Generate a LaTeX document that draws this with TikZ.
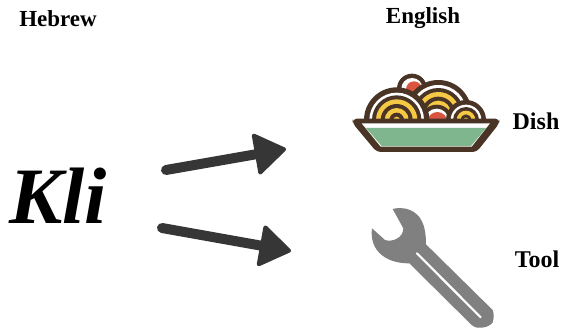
\documentclass[tikz,border=0pt]{standalone}
\usepackage{fontspec}
\setmainfont{Liberation Serif}
\usetikzlibrary{arrows.meta}
\definecolor{brownline}{HTML}{4A3425}
\definecolor{pastayellow}{HTML}{F6C945}
\definecolor{sauce}{HTML}{D9553F}
\definecolor{bowlgreen}{HTML}{7FB68E}
\definecolor{arrowgray}{HTML}{363636}
\definecolor{wrenchgray}{HTML}{808080}
\tikzset{
  headlabel/.style={font=\bfseries\fontsize{23}{23}\selectfont},
  sidelabel/.style={font=\bfseries\fontsize{24}{24}\selectfont},
  bigword/.style={font=\bfseries\itshape\fontsize{80}{80}\selectfont},
  fatarrow/.style={arrowgray,line width=10pt,line cap=round,
    -{Triangle[round,line width=4pt,length=33pt,width=44pt]}}
}
% concentric rings of one pasta swirl: centre, then radius/colour pairs
\newcommand{\swirl}[2]{%
  \foreach \r/\c in {#2} {
    \fill[\c] (#1) circle (\r);
  }
}
\begin{document}
\begin{tikzpicture}[x=1pt,y=-1pt]
  \useasboundingbox (0,0) rectangle (561,328);
  % Labels
  \node[headlabel] (hebrew) at (58,19) {Hebrew};
  \node[headlabel] (english) at (423,18) {English};
  \node[sidelabel] (dish) at (536,121) {Dish};
  \node[sidelabel] (tool) at (537,259) {Tool};
  \node[bigword] (kli) at (58,196) {Kli};
  % Arrows
  \coordinate (upstart) at (166,170);
  \coordinate (uptip) at (286,149);
  \coordinate (downstart) at (162,228);
  \coordinate (downtip) at (291,251);
  \draw[fatarrow] (upstart) -- (uptip);
  \draw[fatarrow] (downstart) -- (downtip);
  % Dish: coordinates below are read from a 3x crop
  \begin{scope}[shift={(340,60)},scale=1/3]
    \begin{scope}
      \clip (0,0) rectangle (510,180);
      % meatball on top
      \swirl{216,86}{45/brownline,32/white}
      \fill[sauce] (222,88) circle (24);
      % middle swirl
      \swirl{295,160}{100/brownline,85/white,76/brownline,64/pastayellow,50/brownline,38/pastayellow,24/brownline,12/white}
      % meatball in front
      \swirl{290,182}{48/brownline,36/white}
      \fill[sauce] (292,186) circle (30);
      % right swirl
      \swirl{378,180}{60/brownline,46/white,39/brownline,28/pastayellow,17/brownline,7/pastayellow}
      % left swirl
      \swirl{170,180}{98/brownline,82/white,74/brownline,62/pastayellow,48/brownline,36/pastayellow,22/brownline,10/pastayellow}
    \end{scope}
    % bowl
    \fill[brownline,rounded corners=4pt] (38,176) -- (478,176) -- (478,190) -- (410,276) -- (110,276) -- (38,190) -- cycle;
    \fill[white] (65,190) -- (450,190) -- (395,260) -- (122,260) -- cycle;
    \fill[bowlgreen] (78,204) -- (438,204) -- (393,258) -- (125,258) -- cycle;
  \end{scope}
  % Wrench: coordinates below are read from a 3x crop
  \begin{scope}[shift={(350,195)},scale=1/3]
    \fill[wrenchgray] (128,42) .. controls (140,38) and (165,38) .. (180,45)
      .. controls (210,58) and (228,85) .. (228,148)
      -- (428,345) .. controls (432,355) and (432,370) .. (428,382)
      .. controls (422,392) and (405,398) .. (395,398)
      .. controls (385,400) and (375,398) .. (365,390)
      -- (178,205) .. controls (150,205) and (120,200) .. (95,180)
      .. controls (70,160) and (62,130) .. (66,100)
      -- (105,135) .. controls (125,142) and (160,130) .. (160,100)
      -- cycle;
    \draw[white,line width=2.2pt,line cap=round] (201,175) -- (392,367);
  \end{scope}
\end{tikzpicture}
\end{document}
